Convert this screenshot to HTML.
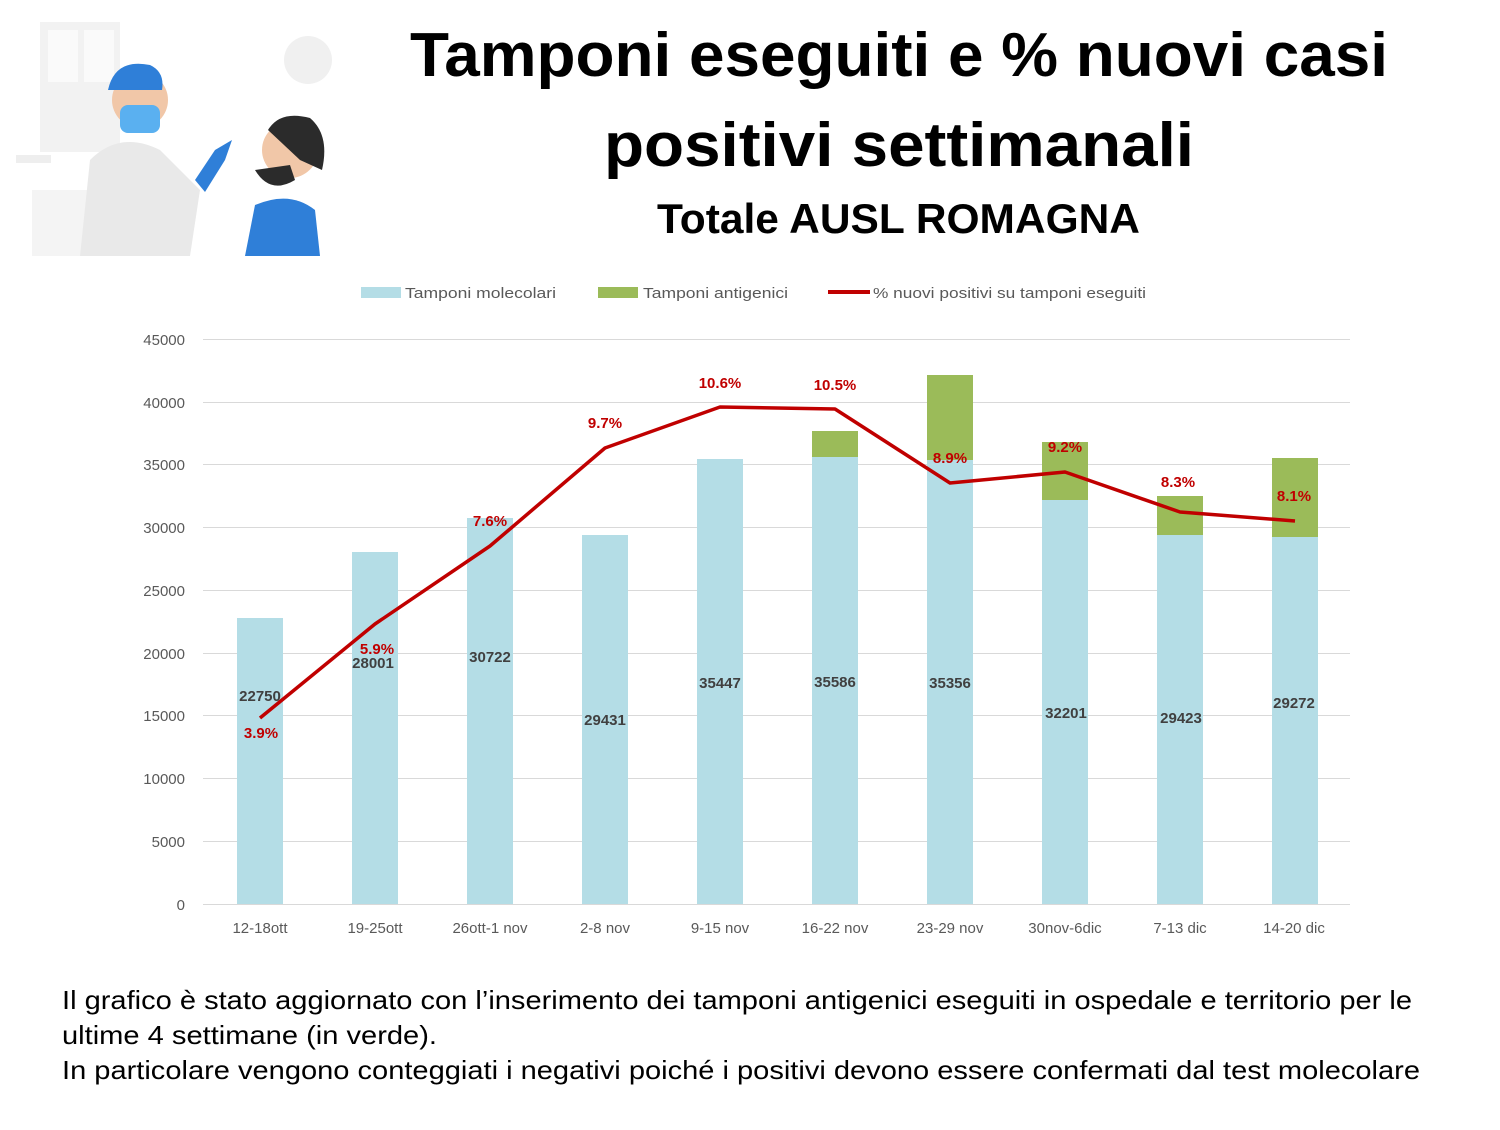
<!DOCTYPE html>
<html><head><meta charset="utf-8"><style>
body{margin:0;width:1500px;height:1125px;background:#fff;overflow:hidden;font-family:"Liberation Sans",sans-serif}
</style></head><body>
<svg width="1500" height="1125" xmlns="http://www.w3.org/2000/svg" font-family="Liberation Sans, DejaVu Sans, sans-serif">
<g opacity="1">
<rect x="40" y="22" width="80" height="130" fill="#f2f2f2"/>
<rect x="48" y="30" width="30" height="52" fill="#fafafa"/><rect x="84" y="30" width="30" height="52" fill="#fafafa"/>
<circle cx="308" cy="60" r="24" fill="#f0f0f0"/>
<rect x="16" y="155" width="35" height="8" fill="#eee"/>
<rect x="32" y="190" width="60" height="66" fill="#f4f4f4"/>
<path d="M80 256 L90 160 Q120 130 160 150 L200 190 L190 256 Z" fill="#e9e9e9"/>
<circle cx="140" cy="100" r="28" fill="#f1c7a8"/>
<path d="M108 90 Q115 58 150 65 Q165 72 162 90 Z" fill="#2f7fd8"/>
<rect x="120" y="105" width="40" height="28" rx="8" fill="#5ab0f0"/>
<path d="M195 180 L215 150 L232 140 L225 160 L205 192 Z" fill="#2f7fd8"/>
<circle cx="290" cy="150" r="28" fill="#f1c7a8"/>
<path d="M268 130 Q280 110 310 118 Q330 135 322 170 L300 160 Z" fill="#2b2b2b"/>
<path d="M255 170 Q270 195 295 180 L290 165 Z" fill="#2b2b2b"/>
<path d="M245 256 L255 205 Q290 190 315 210 L320 256 Z" fill="#2f7fd8"/>
</g>
<text x="410" y="76" font-size="62" font-weight="bold" fill="#000" textLength="978" lengthAdjust="spacingAndGlyphs">Tamponi eseguiti e % nuovi casi</text>
<text x="604" y="166" font-size="62" font-weight="bold" fill="#000" textLength="590" lengthAdjust="spacingAndGlyphs">positivi settimanali</text>
<text x="657" y="233" font-size="42" font-weight="bold" fill="#000" textLength="483" lengthAdjust="spacingAndGlyphs">Totale AUSL ROMAGNA</text>
<rect x="361" y="287" width="40" height="11" fill="#b4dde6"/>
<text x="405" y="298" font-size="15" fill="#595959" textLength="151" lengthAdjust="spacingAndGlyphs">Tamponi molecolari</text>
<rect x="598" y="287" width="40" height="11" fill="#9bbb59"/>
<text x="643" y="298" font-size="15" fill="#595959" textLength="145" lengthAdjust="spacingAndGlyphs">Tamponi antigenici</text>
<line x1="828" y1="292" x2="870" y2="292" stroke="#c00000" stroke-width="4"/>
<text x="873" y="298" font-size="15" fill="#595959" textLength="273" lengthAdjust="spacingAndGlyphs">% nuovi positivi su tamponi eseguiti</text>
<g stroke="#d9d9d9" stroke-width="1">
<line x1="203" y1="339.5" x2="1350" y2="339.5"/><line x1="203" y1="402.5" x2="1350" y2="402.5"/>
<line x1="203" y1="464.5" x2="1350" y2="464.5"/><line x1="203" y1="527.5" x2="1350" y2="527.5"/>
<line x1="203" y1="590.5" x2="1350" y2="590.5"/><line x1="203" y1="653.5" x2="1350" y2="653.5"/>
<line x1="203" y1="715.5" x2="1350" y2="715.5"/><line x1="203" y1="778.5" x2="1350" y2="778.5"/>
<line x1="203" y1="841.5" x2="1350" y2="841.5"/><line x1="203" y1="904.5" x2="1350" y2="904.5"/>
</g>
<g font-size="15" fill="#595959" text-anchor="end">
<text x="185" y="345">45000</text><text x="185" y="408">40000</text><text x="185" y="470">35000</text>
<text x="185" y="533">30000</text><text x="185" y="596">25000</text><text x="185" y="659">20000</text>
<text x="185" y="721">15000</text><text x="185" y="784">10000</text><text x="185" y="847">5000</text><text x="185" y="910">0</text>
</g>
<g fill="#b4dde6">
<rect x="237" y="618" width="46" height="286"/><rect x="352" y="552" width="46" height="352"/>
<rect x="467" y="518" width="46" height="386"/><rect x="582" y="535" width="46" height="369"/>
<rect x="697" y="459" width="46" height="445"/><rect x="812" y="457" width="46" height="447"/>
<rect x="927" y="460" width="46" height="444"/><rect x="1042" y="500" width="46" height="404"/>
<rect x="1157" y="535" width="46" height="369"/><rect x="1272" y="537" width="46" height="367"/>
</g>
<g fill="#9bbb59">
<rect x="812" y="431" width="46" height="26"/><rect x="927" y="375" width="46" height="85"/>
<rect x="1042" y="442" width="46" height="58"/><rect x="1157" y="496" width="46" height="39"/>
<rect x="1272" y="458" width="46" height="79"/>
</g>
<g font-size="15" font-weight="bold" fill="#404040" text-anchor="middle">
<text x="260" y="701">22750</text><text x="373" y="668">28001</text><text x="490" y="662">30722</text>
<text x="605" y="725">29431</text><text x="720" y="688">35447</text><text x="835" y="687">35586</text>
<text x="950" y="688">35356</text><text x="1066" y="718">32201</text><text x="1181" y="723">29423</text>
<text x="1294" y="708">29272</text>
</g>
<polyline points="260,718 375,624 490,546 605,448 720,407 835,409 950,483 1065,472 1180,512 1295,521" fill="none" stroke="#c00000" stroke-width="3.5" stroke-linejoin="round"/>
<g font-size="15" font-weight="bold" fill="#c00000" text-anchor="middle">
<text x="261" y="738">3.9%</text><text x="377" y="654">5.9%</text><text x="490" y="526">7.6%</text>
<text x="605" y="428">9.7%</text><text x="720" y="388">10.6%</text><text x="835" y="390">10.5%</text>
<text x="950" y="463">8.9%</text><text x="1065" y="452">9.2%</text><text x="1178" y="487">8.3%</text>
<text x="1294" y="501">8.1%</text>
</g>
<g font-size="15" fill="#595959" text-anchor="middle">
<text x="260" y="933">12-18ott</text><text x="375" y="933">19-25ott</text><text x="490" y="933">26ott-1 nov</text>
<text x="605" y="933">2-8 nov</text><text x="720" y="933">9-15 nov</text><text x="835" y="933">16-22 nov</text>
<text x="950" y="933">23-29 nov</text><text x="1065" y="933">30nov-6dic</text><text x="1180" y="933">7-13 dic</text>
<text x="1294" y="933">14-20 dic</text>
</g>
<g font-size="26" fill="#000">
<text x="62" y="1009" textLength="1350" lengthAdjust="spacingAndGlyphs">Il grafico è stato aggiornato con l’inserimento dei tamponi antigenici eseguiti in ospedale e territorio per le</text>
<text x="62" y="1044" textLength="375" lengthAdjust="spacingAndGlyphs">ultime 4 settimane (in verde).</text>
<text x="62" y="1079" textLength="1358" lengthAdjust="spacingAndGlyphs">In particolare vengono conteggiati i negativi poiché i positivi devono essere confermati dal test molecolare</text>
</g>
</svg>
</body></html>
